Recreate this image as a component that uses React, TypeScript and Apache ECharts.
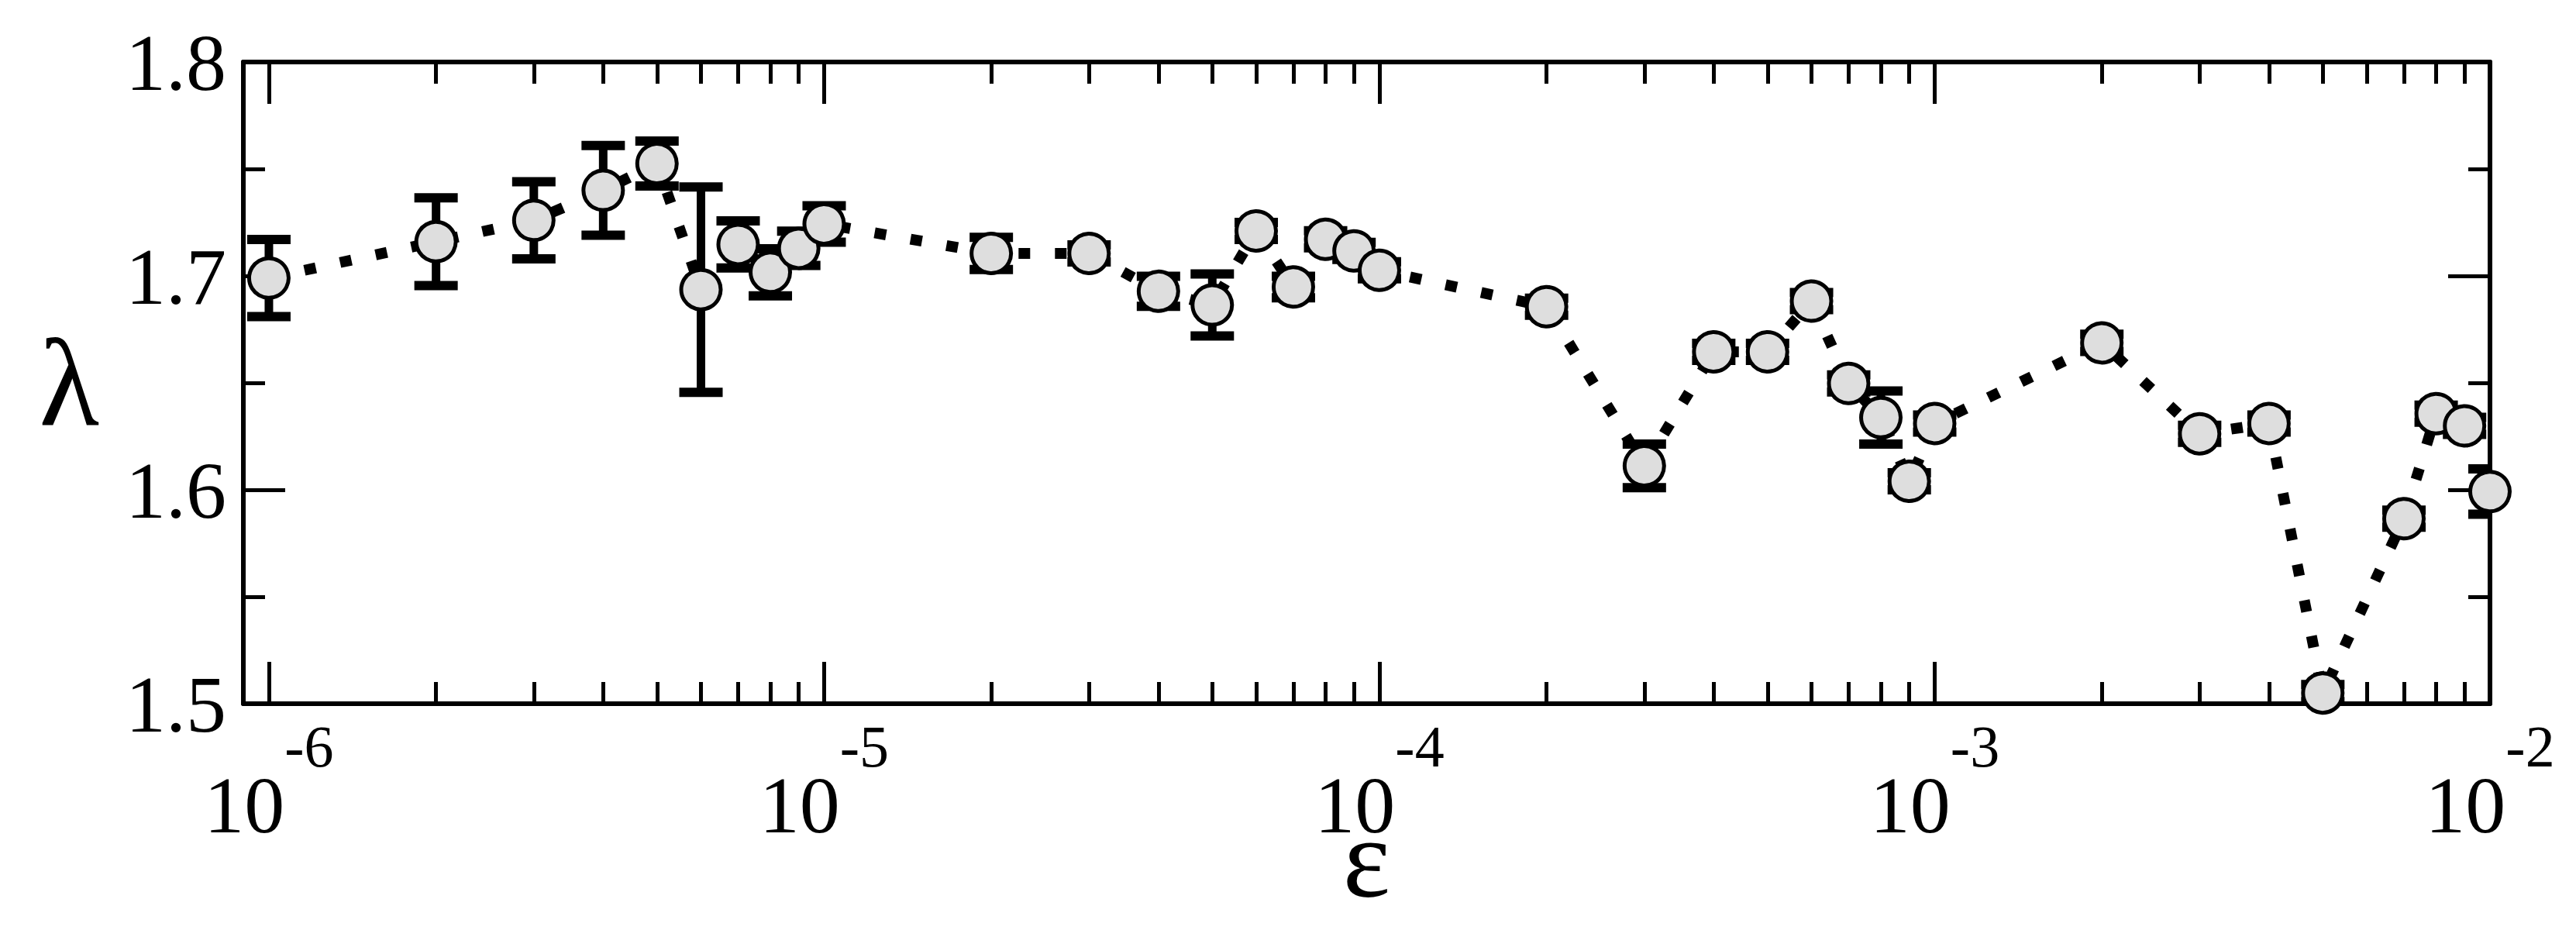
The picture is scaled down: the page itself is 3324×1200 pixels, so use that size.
import React, { useEffect, useRef } from "react";
import * as echarts from "echarts";

// ε values (x, logarithmic)
const epsilon = [
  1e-6, 2e-6, 3e-6, 4e-6, 5e-6, 6e-6, 7e-6, 8e-6, 9e-6,
  1e-5, 2e-5, 3e-5, 4e-5, 5e-5, 6e-5, 7e-5, 8e-5, 9e-5,
  1e-4, 2e-4, 3e-4, 4e-4, 5e-4, 6e-4, 7e-4, 8e-4, 9e-4,
  1e-3, 2e-3, 3e-3, 4e-3, 5e-3, 7e-3, 8e-3, 9e-3, 1e-2,
];

// λ values
const lambda = [
  1.699, 1.716, 1.726, 1.740, 1.7525, 1.6936, 1.7147, 1.7017, 1.7129,
  1.7243, 1.7105, 1.7105, 1.6928, 1.6864, 1.7210, 1.6948, 1.7171, 1.7117,
  1.7026, 1.6856, 1.6112, 1.6645, 1.6645, 1.6882, 1.6497, 1.6338, 1.6040,
  1.6310, 1.6687, 1.6262, 1.6310, 1.505, 1.5865, 1.6356, 1.6299, 1.5992,
];

// symmetric error of λ
const lambdaErr = [
  0.018, 0.0205, 0.018, 0.021, 0.0105, 0.048, 0.011, 0.011, 0.008,
  0.0085, 0.0075, 0.004, 0.007, 0.0145, 0.004, 0.005, 0.004, 0.004,
  0.004, 0.004, 0.0102, 0.004, 0.004, 0.004, 0.004, 0.0124, 0.004,
  0.004, 0.004, 0.004, 0.004, 0.004, 0.004, 0.004, 0.004, 0.0106,
];

// axis ticks (decade exponents) and minor multipliers
const decadeExponents = [-6, -5, -4, -3, -2];
const minorMultipliers = [2, 3, 4, 5, 6, 7, 8, 9];
const yMin = 1.5;
const yMax = 1.8;
const yStep = 0.1;

export default function App() {
  const ref = useRef<HTMLDivElement>(null);

  useEffect(() => {
    if (!ref.current) return;
    const chart = echarts.init(ref.current, null, { renderer: "svg" });

    const xMin = -6.046;
    const xMax = -2;
    const minorTicks: number[] = [];
    decadeExponents.slice(0, -1).forEach((e) => {
      minorMultipliers.forEach((m) => minorTicks.push(Math.log10(m) + e));
    });

    const lineData = epsilon.map((e, i) => [Math.log10(e), lambda[i]]);
    const errData = epsilon.map((e, i) => [
      Math.log10(e),
      lambda[i] - lambdaErr[i],
      lambda[i] + lambdaErr[i],
    ]);

    const font = "Liberation Serif";
    const axisLineStyle = { color: "#000", width: 6 };
    const tickStyle = { color: "#000", width: 5 };

    const xBase = {
      type: "value",
      min: xMin,
      max: xMax,
      gridIndex: 0,
      splitLine: { show: false },
    };

    const option: any = {
      animation: false,
      backgroundColor: "#fff",
      grid: {
        left: 314,
        top: 80,
        right: 111,
        bottom: 292,
        containLabel: false,
        outerBoundsMode: "none",
      },
      xAxis: [
        {
          ...xBase,
          position: "bottom",
          axisLine: { show: true, lineStyle: axisLineStyle },
          axisTick: {
            show: true,
            inside: true,
            length: 54,
            lineStyle: tickStyle,
            customValues: decadeExponents,
          },
          axisLabel: {
            show: true,
            customValues: decadeExponents,
            margin: 17,
            formatter: (v: number) => `{b|10}{s|${Math.round(v)}}`,
            rich: {
              b: {
                fontFamily: font,
                fontSize: 104,
                lineHeight: 165,
                color: "#000",
                verticalAlign: "bottom",
              },
              s: {
                fontFamily: font,
                fontSize: 76,
                lineHeight: 76,
                color: "#000",
                verticalAlign: "top",
              },
            },
          },
          name: "ε",
          nameLocation: "middle",
          nameGap: 185,
          nameMoveOverlap: false,
          nameTextStyle: { fontFamily: font, fontSize: 146, lineHeight: 30, color: "#000" },
        },
        {
          ...xBase,
          position: "bottom",
          axisLine: { show: false },
          axisTick: {
            show: true,
            inside: true,
            length: 28,
            lineStyle: tickStyle,
            customValues: minorTicks,
          },
          axisLabel: { show: false },
        },
        {
          ...xBase,
          position: "top",
          axisLine: { show: true, lineStyle: axisLineStyle },
          axisTick: {
            show: true,
            inside: true,
            length: 54,
            lineStyle: tickStyle,
            customValues: decadeExponents,
          },
          axisLabel: { show: false },
        },
        {
          ...xBase,
          position: "top",
          axisLine: { show: false },
          axisTick: {
            show: true,
            inside: true,
            length: 28,
            lineStyle: tickStyle,
            customValues: minorTicks,
          },
          axisLabel: { show: false },
        },
      ],
      yAxis: [
        {
          type: "value",
          position: "left",
          min: yMin,
          max: yMax,
          interval: yStep,
          splitLine: { show: false },
          axisLine: { show: true, lineStyle: axisLineStyle },
          axisTick: { show: true, inside: true, length: 54, lineStyle: tickStyle },
          minorTick: { show: true, splitNumber: 2, length: 28, lineStyle: tickStyle },
          axisLabel: {
            show: true,
            margin: 22,
            fontFamily: font,
            fontSize: 104,
            lineHeight: 104,
            padding: [0, 0, 10, 0],
            color: "#000",
            formatter: (v: number) => v.toFixed(1),
          },
          name: "λ",
          nameLocation: "middle",
          nameRotate: 0,
          nameGap: 186,
          nameMoveOverlap: false,
          nameTextStyle: { fontFamily: font, fontSize: 160, color: "#000" },
        },
        {
          type: "value",
          position: "right",
          min: yMin,
          max: yMax,
          interval: yStep,
          splitLine: { show: false },
          axisLine: { show: true, lineStyle: axisLineStyle },
          axisTick: { show: true, inside: true, length: 54, lineStyle: tickStyle },
          minorTick: { show: true, splitNumber: 2, length: 28, lineStyle: tickStyle },
          axisLabel: { show: false },
        },
      ],
      series: [
        {
          type: "line",
          xAxisIndex: 0,
          yAxisIndex: 0,
          data: lineData,
          showSymbol: false,
          clip: false,
          lineStyle: { color: "#000", width: 14, type: [15, 32], cap: "butt" },
          z: 1,
        },
        {
          type: "custom",
          xAxisIndex: 0,
          yAxisIndex: 0,
          data: errData,
          clip: true,
          encode: { x: 0, y: [1, 2] },
          z: 2,
          renderItem: (params: any, api: any) => {
            const x = api.value(0);
            const lo = api.coord([x, api.value(1)]);
            const hi = api.coord([x, api.value(2)]);
            const hw = 28;
            const s = { stroke: "#000", lineWidth: 11, fill: null };
            const c = { stroke: "#000", lineWidth: 12, fill: null };
            return {
              type: "group",
              children: [
                { type: "line", shape: { x1: hi[0], y1: hi[1], x2: lo[0], y2: lo[1] }, style: s },
                { type: "line", shape: { x1: hi[0] - hw, y1: hi[1], x2: hi[0] + hw, y2: hi[1] }, style: c },
                { type: "line", shape: { x1: lo[0] - hw, y1: lo[1], x2: lo[0] + hw, y2: lo[1] }, style: c },
              ],
            };
          },
        },
        {
          type: "scatter",
          xAxisIndex: 0,
          yAxisIndex: 0,
          data: lineData,
          clip: false,
          symbol: "circle",
          symbolSize: 51,
          itemStyle: {
            color: "#dedede",
            borderColor: "#000",
            borderWidth: 5,
            opacity: 1,
          },
          z: 3,
        },
      ],
    };

    chart.setOption(option);
    return () => chart.dispose();
  }, []);

  return (
    <div
      ref={ref}
      style={{
        position: "fixed",
        left: 0,
        top: 0,
        width: "3324px",
        height: "1200px",
        background: "#fff",
      }}
    />
  );
}
